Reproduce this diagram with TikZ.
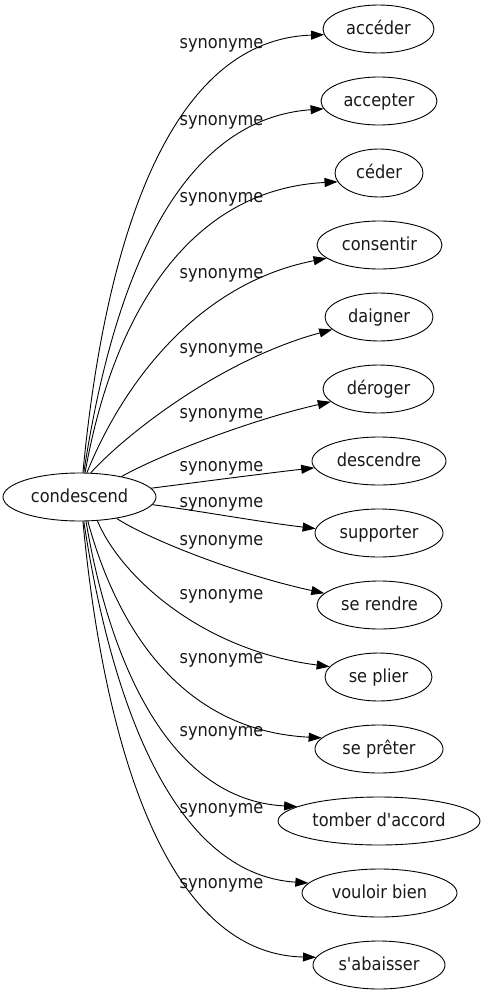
\documentclass[tikz,border=0pt]{standalone}
\usepackage{fontspec}
\setmainfont{DejaVu Sans Condensed}[Ligatures=TeXOff]
\usetikzlibrary{shapes.geometric,arrows.meta}
\begin{document}
\begin{tikzpicture}[x=1pt,y=-1pt,
  every node/.style={font=\fontsize{18}{21}\selectfont, text height=14pt, text depth=3.5pt, inner sep=0pt, text=black!90},
  word/.style={ellipse, draw=black, line width=0.9pt, minimum height=48pt},
  syn/.style={draw=black, line width=0.9pt, -{Triangle[length=13pt,width=9pt]}}]
\useasboundingbox (0,0) rectangle (484,995);

\node[word, minimum width=153pt] (c) at (79.5,497) {condescend};

\node[word, minimum width=111pt] (t1) at (378.5,29) {accéder};
\node[word, minimum width=116pt] (t2) at (379,101) {accepter};
\node[word, minimum width=88pt] (t3) at (379,173) {céder};
\node[word, minimum width=125pt] (t4) at (379.5,245) {consentir};
\node[word, minimum width=108pt] (t5) at (379,317) {daigner};
\node[word, minimum width=111pt] (t6) at (378.5,389) {déroger};
\node[word, minimum width=134pt] (t7) at (379,461) {descendre};
\node[word, minimum width=128pt] (t8) at (379,533) {supporter};
\node[word, minimum width=125pt] (t9) at (379.5,605) {se rendre};
\node[word, minimum width=107pt] (t10) at (378.5,677) {se plier};
\node[word, minimum width=128pt] (t11) at (379,749) {se prêter};
\node[word, minimum width=202pt] (t12) at (379,821) {tomber d'accord};
\node[word, minimum width=155pt] (t13) at (379.5,893) {vouloir bien};
\node[word, minimum width=132pt] (t14) at (379,965) {s'abaisser};

\node (l1) at (221.5,43) {synonyme};
\node (l2) at (221.5,120) {synonyme};
\node (l3) at (221.5,197) {synonyme};
\node (l4) at (221.5,273) {synonyme};
\node (l5) at (221.5,348) {synonyme};
\node (l6) at (221.5,413) {synonyme};
\node (l7) at (221.5,466) {synonyme};
\node (l8) at (221.5,502) {synonyme};
\node (l9) at (221.5,540) {synonyme};
\node (l10) at (221.5,594) {synonyme};
\node (l11) at (221.5,658) {synonyme};
\node (l12) at (221.5,731) {synonyme};
\node (l13) at (221.5,808) {synonyme};
\node (l14) at (221.5,883) {synonyme};

\draw[syn] (c.82) .. controls (103,260) and (162,40) .. (t1.186);
\draw[syn] (c.80) .. controls (110,300) and (170,120) .. (t2.188);
\draw[syn] (c.77) .. controls (110,330) and (180,190) .. (t3.192);
\draw[syn] (c.73) .. controls (118,395) and (190,285) .. (t4.194);
\draw[syn] (c.65) .. controls (125,435) and (220,360) .. (t5.195);
\draw[syn] (c.26) .. controls (160,455) and (250,420) .. (t6.195);
\draw[syn] (c.7) .. controls (200,482) and (260,474) .. (t7.186);
\draw[syn] (c.354) .. controls (200,511) and (260,522) .. (t8.176);
\draw[syn] (c.330) .. controls (150,540) and (240,575) .. (t9.168);
\draw[syn] (c.307) .. controls (120,575) and (200,650) .. (t10.168);
\draw[syn] (c.289) .. controls (112,610) and (170,730) .. (t11.169);
\draw[syn] (c.285) .. controls (110,664) and (170,800) .. (t12.170);
\draw[syn] (c.280) .. controls (110,694) and (170,874) .. (t13.172);
\draw[syn] (c.278) .. controls (103,734) and (162,954) .. (t14.173);
\end{tikzpicture}
\end{document}
